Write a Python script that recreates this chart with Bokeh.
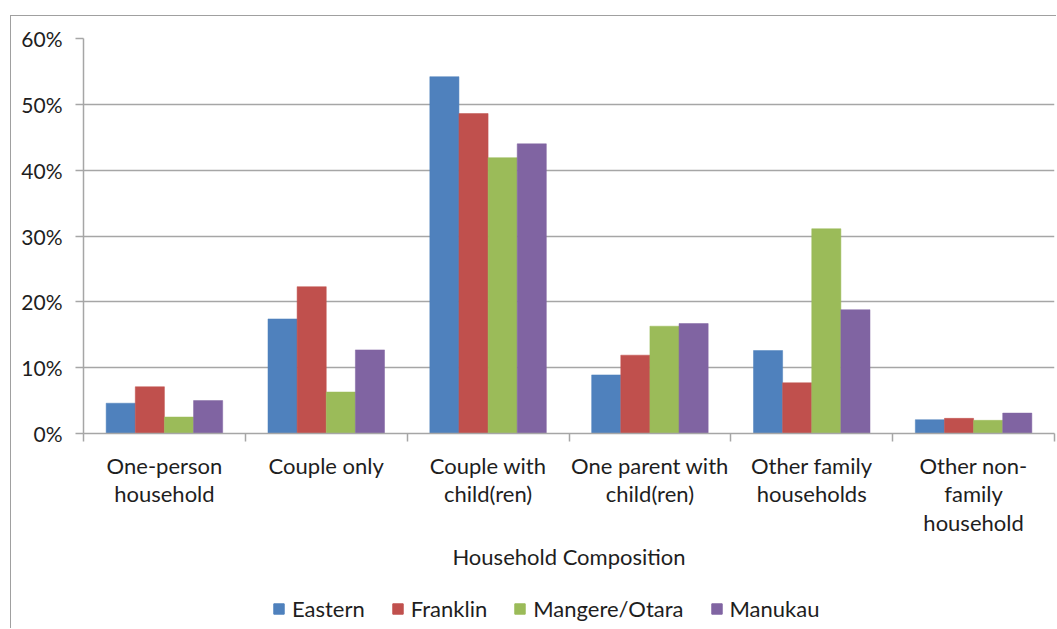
from bokeh.plotting import figure
from bokeh.layouts import column
from bokeh.models import FixedTicker, PrintfTickFormatter, ColumnDataSource, Legend, LegendItem, Range1d
from bokeh.transform import dodge
from bokeh.embed import file_html
from bokeh.resources import INLINE

categories = ["One-person\nhousehold", "Couple only", "Couple with\nchild(ren)",
              "One parent with\nchild(ren)", "Other family\nhouseholds", "Other non-\nfamily\nhousehold"]
series_names = ["Eastern", "Franklin", "Mangere/Otara", "Manukau"]
eastern = [4.6, 17.4, 54.2, 8.9, 12.6, 2.1]
franklin = [7.1, 22.3, 48.6, 11.9, 7.7, 2.3]
mangere_otara = [2.5, 6.3, 41.9, 16.3, 31.1, 2.0]
manukau = [5.0, 12.7, 44.0, 16.7, 18.8, 3.1]
colors = ["#4F81BD", "#C0504D", "#9BBB59", "#8064A2"]
y_ticks = [0, 10, 20, 30, 40, 50, 60]

FONT = "Lato"
TXT = "#1e1e1e"
GRID = "#a6a6a6"
FRAME = "1px solid #a0a0a0"

centers = [i + 0.5 for i in range(len(categories))]
src = ColumnDataSource(dict(x=centers, e=eastern, f=franklin, m=mangere_otara, k=manukau))

p = figure(width=1046, height=559, x_range=(0, len(categories)), y_range=(0, 60),
           output_backend="svg", toolbar_location=None,
           min_border_left=72, min_border_top=22, min_border_right=3, min_border_bottom=142,
           styles={"margin-left": "10px", "margin-top": "15px",
                   "border-left": FRAME, "border-top": FRAME})
p.outline_line_color = None
p.background_fill_color = "white"
p.border_fill_color = "white"

bw = 0.18
offsets = [-0.27, -0.09, 0.09, 0.27]
cols = ["e", "f", "m", "k"]
for c, off, col in zip(cols, offsets, colors):
    p.vbar(x=dodge("x", off, range=p.x_range), top=c, width=bw, source=src,
           fill_color=col, line_color=col, line_width=0.5)

# grid
p.xgrid.visible = False
p.ygrid.ticker = FixedTicker(ticks=y_ticks)
p.ygrid.grid_line_color = GRID
p.ygrid.grid_line_width = 1.5

# y axis
p.yaxis.ticker = FixedTicker(ticks=y_ticks)
p.yaxis.formatter = PrintfTickFormatter(format="%d%%")
p.yaxis.axis_line_color = GRID
p.yaxis.axis_line_width = 1.5
p.yaxis.major_tick_line_color = GRID
p.yaxis.major_tick_line_width = 1.5
p.yaxis.major_tick_out = 8
p.yaxis.major_tick_in = 0
p.yaxis.minor_tick_line_color = None
p.yaxis.major_label_standoff = 13
p.yaxis.major_label_text_font = FONT
p.yaxis.major_label_text_font_size = "21px"
p.yaxis.major_label_text_color = TXT

# x axis
p.xaxis.ticker = FixedTicker(ticks=centers, minor_ticks=list(range(len(categories) + 1)))
p.xaxis.major_label_overrides = {c: lab for c, lab in zip(centers, categories)}
p.xaxis.axis_line_color = GRID
p.xaxis.axis_line_width = 1.5
p.xaxis.major_tick_line_color = None
p.xaxis.major_tick_out = 8
p.xaxis.major_tick_in = 0
p.xaxis.minor_tick_line_color = GRID
p.xaxis.minor_tick_line_width = 1.5
p.xaxis.minor_tick_out = 8
p.xaxis.minor_tick_in = 0
p.xaxis.major_label_standoff = 10
p.xaxis.major_label_text_font = FONT
p.xaxis.major_label_text_font_size = "22px"
p.xaxis.major_label_text_line_height = 1.06
p.xaxis.major_label_text_color = TXT
p.xaxis.axis_label = "Household Composition"
p.xaxis.axis_label_text_font = FONT
p.xaxis.axis_label_text_font_size = "22px"
p.xaxis.axis_label_text_font_style = "normal"
p.xaxis.axis_label_text_color = TXT
p.xaxis.axis_label_standoff = 4

# legend strip (its proxy bars share the data but lie outside its visible range)
lg = figure(width=1046, height=54, x_range=Range1d(100, 101), y_range=Range1d(100, 101),
            output_backend="svg", toolbar_location=None,
            x_axis_location=None, y_axis_location=None,
            min_border_left=0, min_border_right=0, min_border_top=0, min_border_bottom=0,
            styles={"margin-left": "10px", "border-left": FRAME})
lg.outline_line_color = None
lg.xgrid.visible = False
lg.ygrid.visible = False
items = []
for name, c, col in zip(series_names, cols, colors):
    r = lg.vbar(x="x", top=c, width=bw, source=src, fill_color=col, line_color=col)
    items.append(LegendItem(label=name, renderers=[r]))
legend = Legend(items=items, orientation="horizontal", location=(189, 6),
                glyph_width=13, glyph_height=13, label_standoff=7, spacing=26,
                label_text_font=FONT, label_text_font_size="22px", label_text_color=TXT,
                border_line_color=None, background_fill_alpha=0, margin=0, padding=0)
lg.add_layout(legend)

layout = column(p, lg, spacing=0)
open("out.html", "w").write(file_html(layout, INLINE))
